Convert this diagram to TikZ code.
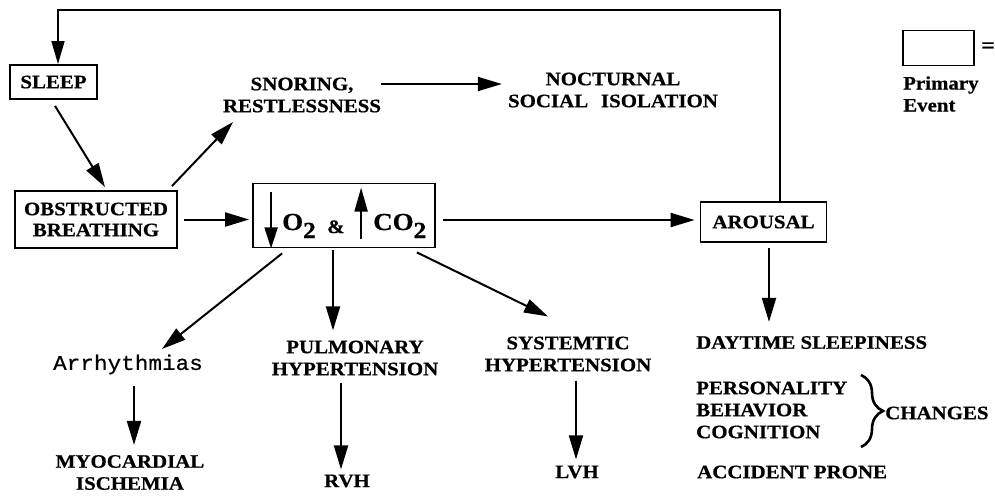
\documentclass[tikz,border=0pt]{standalone}
\usepackage{fontspec}
\setmainfont{Liberation Serif}[FakeStretch=1.1, BoldFeatures={FakeBold=0.6}]
\newfontfamily\monof{Liberation Mono}[FakeStretch=1.08, FakeBold=0.5]
\usetikzlibrary{arrows.meta,decorations.pathreplacing}
\tikzset{
  lab/.style={font=\fontsize{19}{22}\selectfont\bfseries, inner sep=0pt, align=center},
  labl/.style={lab, align=left, anchor=west},
  evbox/.style={draw, line width=1.8pt, inner sep=0pt, font=\fontsize{19}{21}\selectfont\bfseries, align=center},
  arr/.style={line width=2pt, -{Triangle[length=24pt,width=14pt]}},
  fb/.style={line width=1.6pt, -{Triangle[length=23pt,width=13pt]}},
  inarr/.style={line width=2pt, -{Triangle[length=21pt,width=13pt]}},
  otx/.style={anchor=base west, inner sep=0pt, font=\fontsize{24.5}{24.5}\selectfont\bfseries},
  brc/.style={decorate, decoration={brace, amplitude=22pt}, line width=2.6pt},
}
\begin{document}
\begin{tikzpicture}[x=1pt,y=-1pt]
\useasboundingbox (0,0) rectangle (995,496);
% boxes
\node[evbox, minimum width=87pt, minimum height=34pt] (sleep) at (53.5,82) {SLEEP};
\node[evbox, minimum width=162pt, minimum height=57pt] (obs) at (96,219.5) {OBSTRUCTED\\BREATHING};
\node[evbox, minimum width=182pt, minimum height=64pt] (o2) at (344,215.5) {};
\node[evbox, minimum width=126pt, minimum height=40pt] (arousal) at (763.5,222) {AROUSAL};
\node[evbox, line width=1.5pt, minimum width=71pt, minimum height=35pt] (legend) at (938.5,48) {};
\node[lab, font=\fontsize{22}{22}\selectfont\bfseries] (eq) at (988,47.5) {=};
\node[lab, align=left, anchor=west] (prim) at (903,94) {Primary\\Event};
% O2 box contents
\node[otx] (otext) at (282,230) {O\raisebox{-8pt}{\fontsize{23}{23}\selectfont 2}};
\node[otx, font=\fontsize{19}{19}\selectfont\bfseries] (amp) at (327,233) {\&};
\node[otx] (cotext) at (373,230) {CO\raisebox{-8pt}{\fontsize{23}{23}\selectfont 2}};
\draw[inarr] ([xshift=19pt,yshift=-9pt]o2.north west) -- ([xshift=19pt]o2.south west);
\draw[inarr, -{Triangle[length=24pt,width=13pt]}] ([xshift=109pt,yshift=9pt]o2.south west) -- ([xshift=109pt,yshift=-5pt]o2.north west);
% labels
\node[lab] (snor) at (302,95) {SNORING,\\RESTLESSNESS};
\node[lab] (noc) at (613,90) {NOCTURNAL\\SOCIAL\hspace{0.4em} ISOLATION};
\node[lab] (pulm) at (355,358) {PULMONARY\\HYPERTENSION};
\node[lab] (syst) at (568,354) {SYSTEMTIC\\HYPERTENSION};
\node[font=\monof\fontsize{21}{21}\selectfont, inner sep=0pt] (arrh) at (128,364.5) {Arrhythmias};
\node[lab] (myo) at (130,472.5) {MYOCARDIAL\\ISCHEMIA};
\node[lab] (rvh) at (347,481) {RVH};
\node[lab] (lvh) at (577,472) {LVH};
\node[labl] (day) at (696,342.5) {DAYTIME SLEEPINESS};
\node[labl] (pbc) at (696,410) {PERSONALITY\\BEHAVIOR\\COGNITION};
\node[labl] (chg) at (885,413) {CHANGES};
\node[labl] (acc) at (697,472) {ACCIDENT PRONE};
% brace
\coordinate (bt) at (861,375);
\coordinate (bb) at (861,447);
\draw[brc] (bt) -- (bb);
% feedback loop
\coordinate (tr) at (780,10);
\coordinate (tl) at (58,10);
\draw[fb] (arousal.north -| tr) -- (tr) -- (tl) -- (tl |- sleep.north);
% connectors
\draw[arr] ([xshift=1.5pt,yshift=-6pt]sleep.south) -- ([xshift=9pt,yshift=3pt]obs.north);
\draw[arr] ([xshift=-6pt,yshift=4pt]obs.north east) -- ([xshift=-69pt,yshift=-27pt]snor.center);
\draw[arr] ([yshift=11pt]snor.east) -- ([xshift=-6pt,yshift=6pt]noc.west);
\draw[arr] ([xshift=6pt]obs.east) -- ([xshift=-3pt]obs.east -| o2.west);
\draw[arr] ([xshift=7pt,yshift=2pt]o2.east |- arousal.west) -- ([xshift=-5pt,yshift=2pt]arousal.west);
\draw[arr] ([xshift=5.5pt,yshift=-5pt]arousal.south) -- ([xshift=73pt,yshift=14pt]day.north west);
\draw[arr] ([xshift=30pt,yshift=-5pt]o2.south west) -- ([xshift=34pt,yshift=15.5pt]arrh.center);
\draw[arr] ([xshift=-11pt,yshift=-2pt]o2.south) -- ([xshift=-22pt,yshift=10pt]pulm.north);
\draw[arr] ([xshift=-19pt,yshift=-4pt]o2.south east) -- ([xshift=-20pt,yshift=20pt]syst.north);
\draw[arr] ([xshift=6pt,yshift=-12pt]arrh.south) -- ([xshift=4pt,yshift=10pt]myo.north);
\draw[arr] ([xshift=-14pt,yshift=-7pt]pulm.south) -- ([xshift=-6pt,yshift=5pt]rvh.north);
\draw[arr] ([xshift=8pt,yshift=-9pt]syst.south) -- ([xshift=-1pt,yshift=6pt]lvh.north);
\end{tikzpicture}
\end{document}
